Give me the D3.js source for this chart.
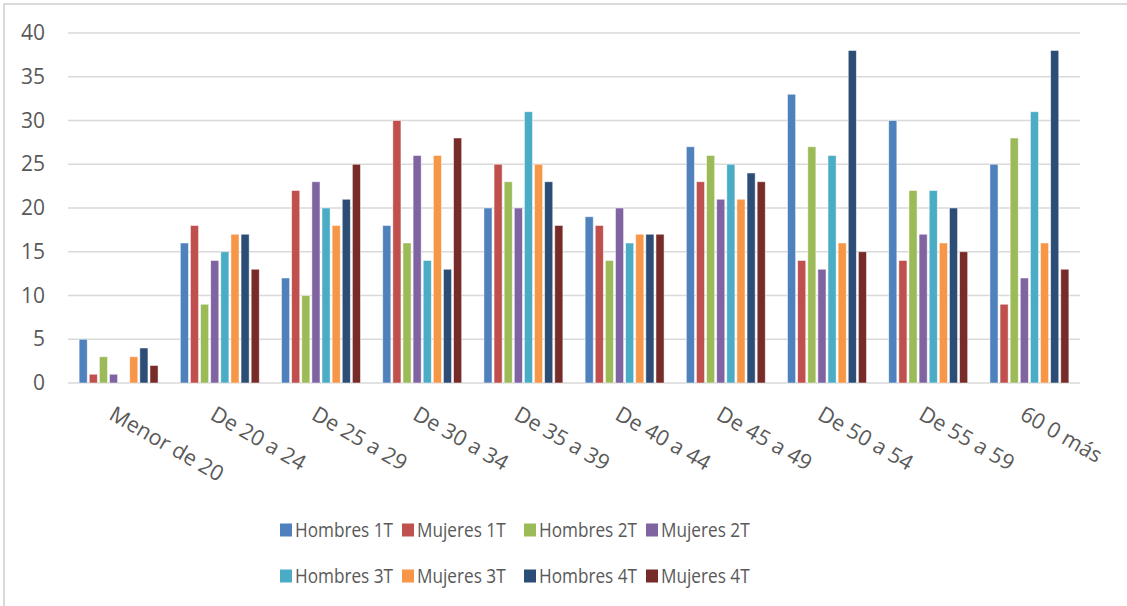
<!DOCTYPE html>
<html lang="es">
<head>
<meta charset="UTF-8">
<title>Grupos de edad por trimestre</title>
<script src="https://d3js.org/d3.v7.min.js"></script>
<style>
  body { margin: 0; background: #fff; }
  text { font-family: "Open Sans", sans-serif; fill: #595959; }
</style>
</head>
<body>
<svg id="main" width="1127" height="606"></svg>
<script>
// categories and series
const categorias = ["Menor de 20", "De 20 a 24", "De 25 a 29", "De 30 a 34", "De 35 a 39",
                    "De 40 a 44", "De 45 a 49", "De 50 a 54", "De 55 a 59", "60 0 más"];
const series = ["Hombres 1T", "Mujeres 1T", "Hombres 2T", "Mujeres 2T",
                "Hombres 3T", "Mujeres 3T", "Hombres 4T", "Mujeres 4T"];

const hombres1T = [5, 16, 12, 18, 20, 19, 27, 33, 30, 25];
const mujeres1T = [1, 18, 22, 30, 25, 18, 23, 14, 14, 9];
const hombres2T = [3, 9, 10, 16, 23, 14, 26, 27, 22, 28];
const mujeres2T = [1, 14, 23, 26, 20, 20, 21, 13, 17, 12];
const hombres3T = [0, 15, 20, 14, 31, 16, 25, 26, 22, 31];
const mujeres3T = [3, 17, 18, 26, 25, 17, 21, 16, 16, 16];
const hombres4T = [4, 17, 21, 13, 23, 17, 24, 38, 20, 38];
const mujeres4T = [2, 13, 25, 28, 18, 17, 23, 15, 15, 13];

const yTicks = [0, 5, 10, 15, 20, 25, 30, 35, 40];

const valores = [hombres1T, mujeres1T, hombres2T, mujeres2T, hombres3T, mujeres3T, hombres4T, mujeres4T];
const colores = ["#4F81BD", "#C0504D", "#9BBB59", "#8064A2", "#4BACC6", "#F79646", "#2C4D75", "#772C2A"];

const svg = d3.select("#main");

// outer chart border (right and bottom edges fall outside the picture)
svg.append("rect")
    .attr("x", 4).attr("y", 4)
    .attr("width", 1140).attr("height", 610)
    .attr("fill", "none")
    .attr("stroke", "#d9d9d9")
    .attr("stroke-width", 2);

const plotLeft = 68, plotRight = 1080, plotTop = 33, plotBottom = 383;

const x0 = d3.scaleBand()
    .domain(categorias)
    .range([plotLeft, plotRight])
    .paddingInner(0.18)
    .paddingOuter(0.09);

const x1 = d3.scaleBand()
    .domain(series)
    .range([0, x0.bandwidth()])
    .padding(0.2);

const y = d3.scaleLinear().domain([0, 40]).range([plotBottom, plotTop]);

// gridlines
svg.append("g")
  .selectAll("line")
  .data(yTicks)
  .join("line")
    .attr("x1", plotLeft).attr("x2", plotRight)
    .attr("y1", d => y(d)).attr("y2", d => y(d))
    .attr("stroke", "#d9d9d9")
    .attr("stroke-width", 1.6);

// y axis labels
const yAxis = svg.append("g")
    .attr("transform", `translate(${plotLeft - 23},0)`)
    .call(d3.axisLeft(y).tickValues(yTicks).tickSize(0).tickPadding(0));
yAxis.select(".domain").remove();
yAxis.selectAll("text")
    .attr("font-size", 21)
    .attr("font-family", "Open Sans, sans-serif")
    .attr("fill", "#595959");

// bars
const grupos = svg.append("g")
  .selectAll("g")
  .data(categorias)
  .join("g")
    .attr("transform", d => `translate(${x0(d)},0)`);

grupos.selectAll("rect")
  .data((c, i) => series.map((s, j) => ({ serie: s, valor: valores[j][i], color: colores[j] })))
  .join("rect")
    .filter(d => d.valor > 0)
    .attr("x", d => x1(d.serie))
    .attr("width", x1.bandwidth())
    .attr("y", d => y(d.valor))
    .attr("height", d => y(0) - y(d.valor))
    .attr("fill", d => d.color)
    .attr("stroke", "#fff")
    .attr("stroke-opacity", 0.6)
    .attr("stroke-width", 0.8);

// category labels, rotated
svg.append("g")
  .selectAll("text")
  .data(categorias)
  .join("text")
    .attr("transform", d => `translate(${x0(d) + x0.bandwidth() / 2 - 3},405) rotate(30)`)
    .attr("dy", "0.72em")
    .attr("font-size", 21.5)
    .text(d => d);

// legend
const legend = svg.append("g")
  .selectAll("g")
  .data(series)
  .join("g")
    .attr("transform", (d, i) => `translate(${280 + (i % 4) * 122},${530 + Math.floor(i / 4) * 46})`);

legend.append("rect")
    .attr("x", 0).attr("y", -6.5)
    .attr("width", 12).attr("height", 13)
    .attr("fill", (d, i) => colores[i]);

legend.append("text")
    .attr("transform", "translate(15,0) scale(0.86,1)")
    .attr("dy", "0.35em")
    .attr("font-size", 20)
    .text(d => d);
</script>
</body>
</html>
